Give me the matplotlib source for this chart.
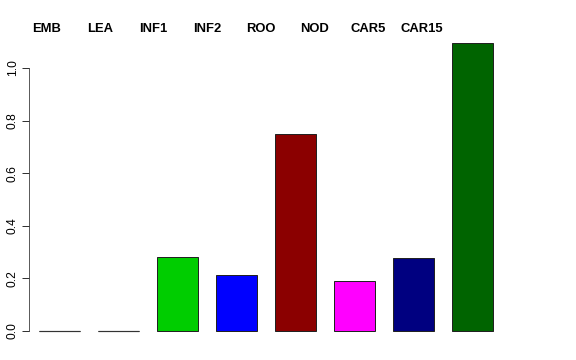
import matplotlib
matplotlib.use('Agg')
import matplotlib.pyplot as plt

plt.rcParams['font.family'] = ['Liberation Sans', 'DejaVu Sans']

# data
tissues = ['EMB', 'LEA', 'INF1', 'INF2', 'ROO', 'NOD', 'CAR5', 'CAR15']
values = [0.0, 0.0, 0.281, 0.213, 0.749, 0.190, 0.278, 1.095]
colors = ['#000000', '#8B0000', '#00CD00', '#0000FF', '#8B0000', '#FF00FF', '#000080', '#006400']

W, H = 576, 360
fig = plt.figure(figsize=(8, 5), dpi=72)

# axes placed in pixel terms (R-style barplot region)
left_px, right_px = 29, 521
top_px, bot_px = 31.5, 342.5
ax = fig.add_axes([left_px / W, 1 - bot_px / H, (right_px - left_px) / W, (bot_px - top_px) / H])

idx = list(range(len(values)))
bw = 0.695
ax.bar(idx, values, width=bw, color=colors, edgecolor='#222222', linewidth=1.0)
# zero-height bars still drawn as a line like R
for i, v in zip(idx, values):
    if v == 0:
        ax.plot([i - bw / 2, i + bw / 2], [0, 0], color='#333333', lw=1.2,
                solid_capstyle='butt')

ax.set_xlim(-0.517, 7.822)
ax.set_ylim(-0.0438, 1.139)

for s in ['top', 'right', 'bottom']:
    ax.spines[s].set_visible(False)
ax.spines['left'].set_bounds(0, 1.0)
ax.spines['left'].set_color('#333333')
ax.set_xticks([])
ax.set_yticks([0, 0.2, 0.4, 0.6, 0.8, 1.0])
ax.set_yticklabels(['0.0', '0.2', '0.4', '0.6', '0.8', '1.0'], rotation=90,
                   va='center', fontsize=12)
ax.tick_params(axis='y', length=7, width=1, color='#333333', pad=3)

# tissue names across the top
for i, name in enumerate(tissues):
    xc = 46.5 + 53.6 * i
    fig.text(xc / W, 1 - 29.5 / H, name, ha='center', va='center',
             fontsize=13, fontweight='bold')

fig.savefig('out.png', dpi=72, facecolor='white')
